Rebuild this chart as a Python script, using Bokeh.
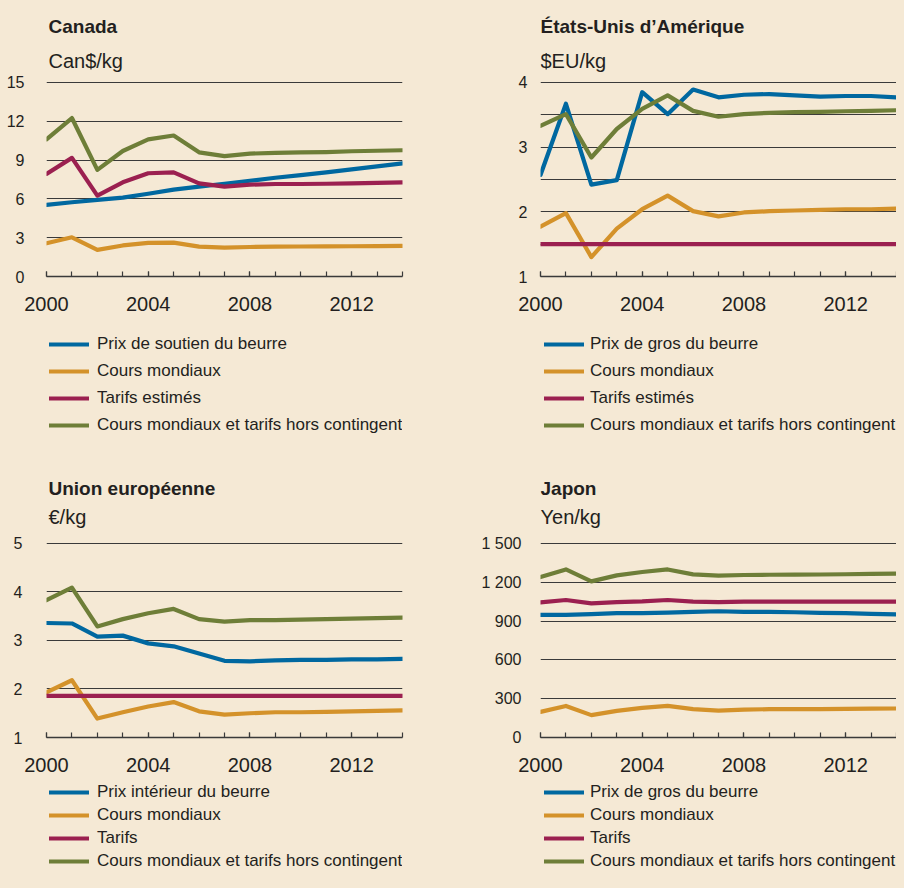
from bokeh.plotting import figure
from bokeh.models import (FixedTicker, Label, Legend, LegendItem, Range1d,
                          GlobalInlineStyleSheet)
from bokeh.layouts import gridplot
from bokeh.embed import file_html
from bokeh.resources import INLINE

years = list(range(2000, 2015))
x_label_years = [2000, 2004, 2008, 2012]

# Canada (Can$/kg)
can_butter = [5.53, 5.74, 5.92, 6.10, 6.40, 6.72, 6.95, 7.17, 7.40, 7.63, 7.84, 8.05, 8.28, 8.51, 8.74]
can_world = [2.57, 3.03, 2.06, 2.40, 2.60, 2.62, 2.31, 2.23, 2.28, 2.31, 2.32, 2.33, 2.34, 2.35, 2.36]
can_tariff = [7.93, 9.17, 6.25, 7.28, 7.98, 8.05, 7.20, 6.95, 7.10, 7.15, 7.15, 7.17, 7.20, 7.23, 7.27]
can_world_tariff = [10.6, 12.25, 8.24, 9.7, 10.6, 10.9, 9.6, 9.3, 9.5, 9.55, 9.6, 9.62, 9.68, 9.72, 9.76]

# United States ($EU/kg)
us_butter = [2.57, 3.67, 2.42, 2.49, 3.85, 3.51, 3.89, 3.77, 3.81, 3.82, 3.80, 3.78, 3.79, 3.79, 3.77]
us_world = [1.77, 1.98, 1.30, 1.74, 2.04, 2.25, 2.01, 1.93, 1.99, 2.01, 2.02, 2.03, 2.04, 2.04, 2.05]
us_tariff = [1.5, 1.5, 1.5, 1.5, 1.5, 1.5, 1.5, 1.5, 1.5, 1.5, 1.5, 1.5, 1.5, 1.5, 1.5]
us_world_tariff = [3.33, 3.51, 2.84, 3.28, 3.59, 3.80, 3.56, 3.47, 3.51, 3.53, 3.54, 3.545, 3.555, 3.56, 3.57]

# European Union (EUR/kg)
eu_butter = [3.36, 3.35, 3.08, 3.10, 2.94, 2.88, 2.73, 2.58, 2.57, 2.59, 2.60, 2.60, 2.61, 2.61, 2.62]
eu_world = [1.93, 2.18, 1.39, 1.52, 1.64, 1.73, 1.54, 1.47, 1.50, 1.52, 1.52, 1.53, 1.54, 1.55, 1.56]
eu_tariff = [1.86, 1.86, 1.86, 1.86, 1.86, 1.86, 1.86, 1.86, 1.86, 1.86, 1.86, 1.86, 1.86, 1.86, 1.86]
eu_world_tariff = [3.83, 4.09, 3.29, 3.44, 3.56, 3.65, 3.44, 3.39, 3.42, 3.42, 3.43, 3.44, 3.45, 3.46, 3.47]

# Japan (Yen/kg)
jp_butter = [948, 948, 953, 961, 961, 966, 971, 976, 971, 971, 968, 963, 961, 956, 951]
jp_world = [198, 244, 173, 206, 229, 244, 219, 208, 216, 219, 219, 220, 222, 223, 224]
jp_tariff = [1045, 1063, 1037, 1047, 1052, 1063, 1050, 1047, 1050, 1050, 1050, 1050, 1050, 1050, 1050]
jp_world_tariff = [1240, 1299, 1207, 1253, 1279, 1299, 1261, 1251, 1256, 1258, 1259, 1260, 1262, 1264, 1266]

# Tick labels
can_yticks = [0, 3, 6, 9, 12, 15]
us_yticks = [1, 2, 3, 4]
us_yminor = [1.5, 2.5, 3.5]
eu_yticks = [1, 2, 3, 4, 5]
jp_yticks = [0, 300, 600, 900, 1200, 1500]
jp_ylabels = ["0", "300", "600", "900", "1 200", "1 500"]

BG = "#f5e9d5"
TXT = "#231f20"
GRID = "#3a3a3a"
FONT = "Liberation Sans"
COLORS = ["#0068a0", "#d4922a", "#9b2050", "#6e7e38"]
W = 448


def blank(h):
    f = figure(width=W, height=h, x_range=Range1d(0, 1), y_range=Range1d(0, 1),
               x_axis_type=None, y_axis_type=None, output_backend="svg",
               toolbar_location=None, min_border=0)
    f.min_border_left = f.min_border_right = f.min_border_top = f.min_border_bottom = 0
    f.background_fill_color = BG
    f.border_fill_color = BG
    f.outline_line_color = None
    f.grid.visible = False
    return f


def head(title, unit, h, x, y_title, y_unit):
    f = blank(h)
    f.add_layout(Label(x=x, y=y_title, x_units="screen", y_units="screen", text=title,
                       text_font=FONT, text_font_style="bold", text_font_size="19px",
                       text_color=TXT, text_baseline="alphabetic", text_align="left"))
    f.add_layout(Label(x=x, y=y_unit, x_units="screen", y_units="screen", text=unit,
                       text_font=FONT, text_font_size="20px",
                       text_color=TXT, text_baseline="alphabetic", text_align="left"))
    return f


def leg(names, series, h, x, vy, spacing, standoff):
    # legend panel; its series lie outside this panel's visible range,
    # only the legend samples are shown
    f = blank(h)
    items = []
    for name, vals, col in zip(names, series, COLORS):
        r = f.line(years, vals, line_color=col, line_width=4.2, line_cap="round")
        items.append(LegendItem(label=name, renderers=[r]))
    f.add_layout(Legend(items=items, location=(x, vy), orientation="vertical",
                        glyph_width=40, glyph_height=20, label_height=20, label_width=20,
                        spacing=spacing, padding=0, margin=0, label_standoff=standoff,
                        background_fill_alpha=0, border_line_color=None,
                        label_text_font=FONT, label_text_font_size="17px",
                        label_text_color=TXT))
    return f


def chart(series, yr, yticks, yminor, ylabels, h, left, right, top, bottom, y_standoff):
    p = figure(width=W, height=h, x_range=Range1d(2000, 2014), y_range=Range1d(*yr),
               output_backend="svg", toolbar_location=None,
               min_border_left=left, min_border_right=right,
               min_border_top=top, min_border_bottom=bottom)
    p.background_fill_color = BG
    p.border_fill_color = BG
    p.outline_line_color = None

    xt = FixedTicker(ticks=x_label_years, minor_ticks=years)
    p.xaxis.ticker = xt
    p.xgrid.grid_line_color = None
    p.xaxis.axis_line_color = GRID
    p.xaxis.axis_line_width = 1.3
    p.xaxis.major_tick_line_color = GRID
    p.xaxis.minor_tick_line_color = GRID
    p.xaxis.major_tick_line_width = 1.2
    p.xaxis.minor_tick_line_width = 1.2
    p.xaxis.major_tick_in = 5
    p.xaxis.major_tick_out = 0
    p.xaxis.minor_tick_in = 5
    p.xaxis.minor_tick_out = 0
    p.xaxis.major_label_standoff = 20
    p.xaxis.major_label_text_font = FONT
    p.xaxis.major_label_text_font_size = "20px"
    p.xaxis.major_label_text_color = TXT

    yt = FixedTicker(ticks=yticks, minor_ticks=yminor)
    p.yaxis.ticker = yt
    p.ygrid.ticker = yt
    p.yaxis.axis_line_color = None
    p.yaxis.major_tick_line_color = None
    p.yaxis.minor_tick_line_color = None
    p.yaxis.major_label_standoff = y_standoff
    p.yaxis.major_label_text_font = FONT
    p.yaxis.major_label_text_font_size = "16px"
    p.yaxis.major_label_text_color = TXT
    if ylabels is not None:
        p.yaxis.major_label_overrides = {t: l for t, l in zip(yticks, ylabels)}
    p.ygrid.grid_line_color = GRID
    p.ygrid.grid_line_width = 1
    if yminor:
        p.ygrid.minor_grid_line_color = GRID
        p.ygrid.minor_grid_line_width = 1

    for vals, col in zip(series, COLORS):
        p.line(years, vals, line_color=col, line_width=4.2,
               line_cap="round", line_join="round")
    return p


names_can = ["Prix de soutien du beurre", "Cours mondiaux", "Tarifs estimés",
             "Cours mondiaux et tarifs hors contingent"]
names_us = ["Prix de gros du beurre", "Cours mondiaux", "Tarifs estimés",
            "Cours mondiaux et tarifs hors contingent"]
names_eu = ["Prix intérieur du beurre", "Cours mondiaux", "Tarifs",
            "Cours mondiaux et tarifs hors contingent"]
names_jp = ["Prix de gros du beurre", "Cours mondiaux", "Tarifs",
            "Cours mondiaux et tarifs hors contingent"]

s_can = [can_butter, can_world, can_tariff, can_world_tariff]
s_us = [us_butter, us_world, us_tariff, us_world_tariff]
s_eu = [eu_butter, eu_world, eu_tariff, eu_world_tariff]
s_jp = [jp_butter, jp_world, jp_tariff, jp_world_tariff]

# top row: header 73, chart 253, legend 110  (= 436)
t1 = head("Canada", "Can$/kg", 73, 2, 47, 13)
t2 = head("États-Unis d’Amérique", "$EU/kg", 73, 0, 47, 13)
c1 = chart(s_can, (0, 15.15), can_yticks, [], None, 253, 46, 46, 7, 50, 16)
c2 = chart(s_us, (1, 4.03), us_yticks, us_yminor, None, 253, 92, 0, 7, 50, 7)
l1 = leg(names_can, s_can, 110, 3, 1, 7, 8)
l2 = leg(names_us, s_us, 110, 4, 1, 7, 6)

# bottom row: header 97, chart 248, legend 91  (= 436)
t3 = head("Union européenne", "€/kg", 97, 2, 45, 17)
t4 = head("Japon", "Yen/kg", 97, 0, 45, 17)
c3 = chart(s_eu, (1, 5.04), eu_yticks, [], None, 248, 46, 46, 8, 44, 18)
c4 = chart(s_jp, (0, 1515), jp_yticks, [], jp_ylabels, 248, 92, 0, 8, 44, 13)
l3 = leg(names_eu, s_eu, 91, 3, 1, 3, 8)
l4 = leg(names_jp, s_jp, 91, 4, 1, 3, 6)

grid = gridplot([[t1, t2], [c1, c2], [l1, l2], [t3, t4], [c3, c4], [l3, l4]],
                toolbar_location=None)
grid.stylesheets = [GlobalInlineStyleSheet(css="body { background-color: #f5e9d5; }")]

open("out.html", "w").write(file_html(grid, INLINE))
